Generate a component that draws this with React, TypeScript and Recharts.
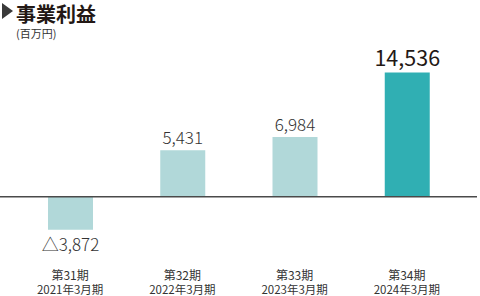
import React from "react";
import { BarChart, Bar, XAxis, YAxis, Cell, LabelList, ReferenceLine } from "recharts";

const periods = ["第31期", "第32期", "第33期", "第34期"];
const fiscalYears = ["2021年3月期", "2022年3月期", "2023年3月期", "2024年3月期"];
const profit = [-3872, 5431, 6984, 14536];

const data = periods.map((p, i) => ({ period: p, fy: fiscalYears[i], value: profit[i] }));

const FONT = "'Noto Sans CJK JP', 'Noto Sans', sans-serif";
const LIGHT = "#b1d8d9";
const DARK = "#30afb3";
const TEXT = "#333333";

const fmt = (v: number) => (v < 0 ? "△" : "") + Math.abs(v).toLocaleString("en-US");

const Tick = (props: any) => {
  const { x, y, index } = props;
  return (
    <g>
      <text x={x} y={y + 6.5} textAnchor="middle" fontSize={12} fill={TEXT} fontFamily={FONT}>
        {periods[index]}
      </text>
      <text x={x} y={y + 21} textAnchor="middle" fontSize={11.5} fill={TEXT} fontFamily={FONT}>
        {fiscalYears[index]}
      </text>
    </g>
  );
};

const ValueLabel = (props: any) => {
  const { x, y, width, height, value, index } = props;
  const cx = x + width / 2;
  const last = index === profit.length - 1;
  if (value < 0) {
    const bottom = y + height;
    return (
      <text x={cx} y={Math.max(y, bottom) + 21.5} textAnchor="middle" fontSize={17} fill={TEXT} fontFamily={FONT} fontWeight={300}>
        {fmt(value)}
      </text>
    );
  }
  return (
    <text
      x={cx}
      y={Math.min(y, y + height) - 6.5}
      textAnchor="middle"
      fontSize={last ? 21.5 : 17}
      fill={last ? "#231815" : TEXT}
      fontFamily={FONT}
      fontWeight={last ? 400 : 300}
    >
      {fmt(value)}
    </text>
  );
};

export default function App() {
  return (
    <div style={{ position: "absolute", left: 0, top: 0, width: 480, height: 296, background: "#fff" }}>
      <svg width={20} height={24} style={{ position: "absolute", left: 0, top: 0 }}>
        <polygon points="2,3 13,11 2,19" fill="#3a3a3a" />
      </svg>
      <div
        style={{
          position: "absolute",
          left: 16,
          top: 4,
          fontFamily: FONT,
          fontWeight: 700,
          fontSize: 20,
          lineHeight: "20px",
          color: "#231815",
        }}
      >
        事業利益
      </div>
      <div
        style={{
          position: "absolute",
          left: 16,
          top: 27,
          fontFamily: FONT,
          fontSize: 11,
          lineHeight: "13px",
          color: TEXT,
        }}
      >
        (百万円)
      </div>
      <div style={{ position: "absolute", left: 0, top: 0 }}>
        <BarChart width={480} height={296} data={data} margin={{ top: 60, right: 3, bottom: 0, left: 0 }}>
          <YAxis hide domain={[-8000, 16000]} />
          <XAxis
            dataKey="period"
            axisLine={false}
            tickLine={false}
            height={31}
            padding={{ left: 14, right: 14 }}
            tick={<Tick />}
            interval={0}
          />
          <Bar dataKey="value" barSize={45} isAnimationActive={false}>
            {data.map((d, i) => (
              <Cell key={d.period} fill={i === data.length - 1 ? DARK : LIGHT} />
            ))}
            <LabelList dataKey="value" content={<ValueLabel />} />
          </Bar>
          <ReferenceLine y={0} stroke="#4a4a4a" strokeWidth={1.5} />
        </BarChart>
      </div>
    </div>
  );
}
